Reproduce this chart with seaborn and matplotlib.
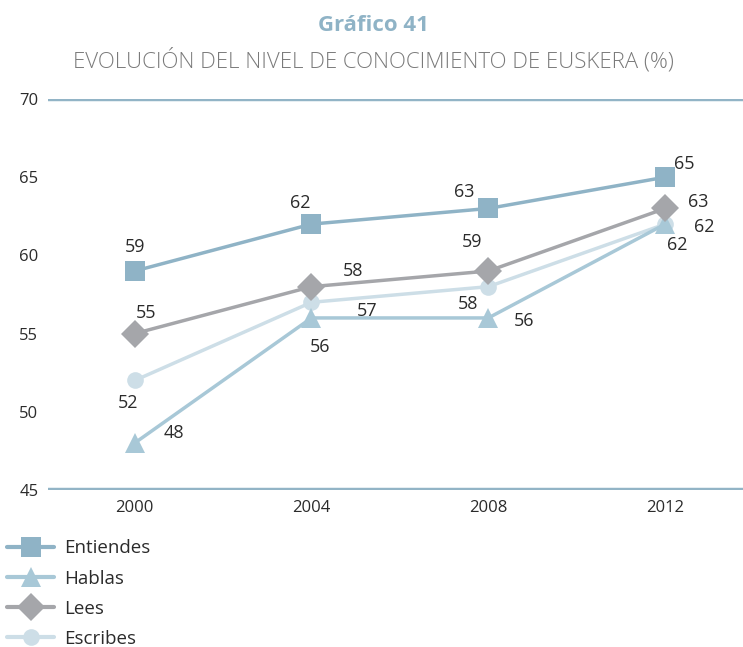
import matplotlib
matplotlib.use("Agg")
import matplotlib.pyplot as plt
import seaborn as sns
import pandas as pd
from matplotlib.lines import Line2D

years = ["2000", "2004", "2008", "2012"]
entiendes = [59, 62, 63, 65]
hablas = [48, 56, 56, 62]
lees = [55, 58, 59, 63]
escribes = [52, 57, 58, 62]
y_ticks = [45, 50, 55, 60, 65, 70]

series = {
    "Entiendes": entiendes,
    "Hablas": hablas,
    "Lees": lees,
    "Escribes": escribes,
}

sns.set_theme(style="white")
plt.rcParams["font.family"] = ["Open Sans", "DejaVu Sans"]

colors = {
    "Entiendes": "#8fb3c6",
    "Hablas": "#a8c8d7",
    "Lees": "#a5a6aa",
    "Escribes": "#cddee7",
}
markers = {"Entiendes": "s", "Hablas": "^", "Lees": "D", "Escribes": "o"}
msizes = {"Entiendes": 14, "Hablas": 15, "Lees": 14, "Escribes": 12}

# label offsets in points (dx, dy) for each value label
offsets = {
    "Entiendes": [(0, 17.5), (-8, 15), (-17, 11.5), (14, 9.5)],
    "Hablas": [(28, 7), (6, -21), (26, -2), (9, -15)],
    "Lees": [(8, 15), (30, 11), (-11.5, 21), (24, 5)],
    "Escribes": [(-5, -16.5), (40, -6.5), (-15, -12.5), (28, -2)],
}

rows = []
for name, vals in series.items():
    for i, v in enumerate(vals):
        rows.append({"serie": name, "x": i, "valor": v})
df = pd.DataFrame(rows)

fig = plt.figure(figsize=(7.43, 6.47), dpi=100)
ax = fig.add_axes([0.0646, 0.2427, 0.9354, 0.6043])

for name in ["Escribes", "Hablas", "Lees", "Entiendes"]:
    sub = df[df["serie"] == name]
    sns.lineplot(data=sub, x="x", y="valor", ax=ax, color=colors[name],
                 linewidth=2.5, marker=markers[name], markersize=msizes[name],
                 markeredgewidth=0, legend=False, zorder=3)

for name, vals in series.items():
    for i, v in enumerate(vals):
        dx, dy = offsets[name][i]
        ax.annotate(str(v), (i, v), xytext=(dx, dy), textcoords="offset points",
                    ha="center", va="center", fontsize=13, color="#2b2b2b")

ax.axhline(70, color="#92b4c6", linewidth=3.2, zorder=2)
ax.axhline(45, color="#92b4c6", linewidth=3.2, zorder=2)

ax.set_xlim(-0.49, 3.44)
ax.set_ylim(45, 70)
ax.set_yticks(y_ticks)
ax.set_yticklabels([str(t) for t in y_ticks], fontsize=12, color="#2b2b2b")
ax.set_xticks(range(len(years)))
ax.set_xticklabels(years, fontsize=12, color="#2b2b2b")
ax.tick_params(axis="y", pad=7, length=0)
ax.tick_params(axis="x", pad=7, length=0)
ax.set_xlabel("")
ax.set_ylabel("")
for s in ax.spines.values():
    s.set_visible(False)
ax.grid(False)

fig.text(0.503, 0.960, "Gráfico 41", ha="center", va="center",
         fontsize=16, fontweight="bold", color="#8fb3c6")
fig.text(0.503, 0.907, "EVOLUCIÓN DEL NIVEL DE CONOCIMIENTO DE EUSKERA (%)",
         ha="center", va="center", fontsize=16, color="#7a7a7a",
         fontweight="light")

handles = [Line2D([0], [0], color=colors[n], linewidth=3, marker=markers[n],
                  markersize=msizes[n], markeredgewidth=0,
                  solid_capstyle="round") for n in series]
fig.legend(handles, list(series.keys()), loc="upper left",
           bbox_to_anchor=(0.005, 0.172), frameon=False, fontsize=13.5,
           handlelength=2.5, handletextpad=0.5, labelspacing=0.65,
           borderaxespad=0, borderpad=0.2, labelcolor="#2b2b2b")

fig.savefig("out.png", dpi=100)
